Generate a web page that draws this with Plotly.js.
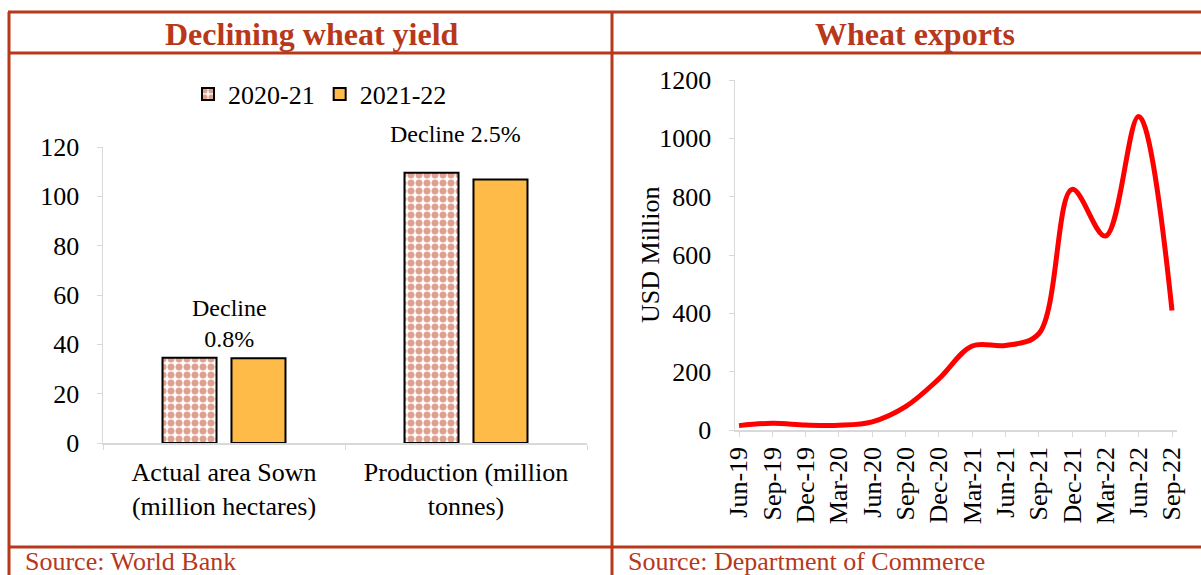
<!DOCTYPE html>
<html>
<head>
<meta charset="utf-8">
<script src="https://cdn.plot.ly/plotly-3.0.1.min.js"></script>
<style>
  html, body { margin: 0; padding: 0; background: #fff; }
  #chart { width: 1201px; height: 575px; }
</style>
</head>
<body>
<div id="chart"></div>
<script>
// left panel: area sown and production
const cropCategories = ['Actual area Sown<br>(million hectares)', 'Production (million<br>tonnes)'];
const seriesNames = ['2020-21', '2021-22'];
const values2020 = [34.6, 109.59];
const values2021 = [34.32, 106.84];

// right panel: quarterly wheat exports (USD million)
const quarters = ['Jun-19', 'Sep-19', 'Dec-19', 'Mar-20', 'Jun-20', 'Sep-20', 'Dec-20',
                  'Mar-21', 'Jun-21', 'Sep-21', 'Dec-21', 'Mar-22', 'Jun-22', 'Sep-22'];
const exportsUSD = [15, 23, 17, 16, 28, 80, 175, 288, 290, 330, 825, 665, 1075, 410];

const W = 1201, H = 575;
const BRICK = '#B7381A';
const FONT = 'Liberation Serif, Times New Roman, serif';
const AXIS_GREY = '#d9d9d9';
const TICK_SIZE = 26;

// pixel -> paper helpers
const px = (x) => x / W;
const py = (y) => 1 - y / H;

const declinePct = values2020.map((v, i) => ((v - values2021[i]) / v * 100).toFixed(1));

const traces = [
    {
        type: 'bar',
        name: seriesNames[0],
        x: cropCategories,
        y: values2020,
        xaxis: 'x', yaxis: 'y',
        marker: {
            color: '#ffffff',
            line: { color: '#000', width: 2 },
            pattern: { shape: '.', fgcolor: '#C0441F', bgcolor: '#ffffff', size: 8, solidity: 0.6, fillmode: 'overlay' }
        },
        hoverinfo: 'x+y'
    },
    {
        type: 'bar',
        name: seriesNames[1],
        x: cropCategories,
        y: values2021,
        xaxis: 'x', yaxis: 'y',
        marker: { color: '#FFBB47', line: { color: '#000', width: 2 } },
        hoverinfo: 'x+y'
    },
    {
        type: 'scatter',
        mode: 'lines',
        x: quarters,
        y: exportsUSD,
        xaxis: 'x2', yaxis: 'y2',
        line: { color: '#FF0000', width: 5, shape: 'spline', smoothing: 1 },
        showlegend: false
    }
];

// frame lines
const frame = [
    [8, 12, W, 12],
    [8, 53, W, 53],
    [8, 547, W, 547],
    [9, 12, 9, H],
    [612, 12, 612, H]
].map(([x0, y0, x1, y1]) => ({
    type: 'line', xref: 'paper', yref: 'paper',
    x0: px(x0), y0: py(y0), x1: px(x1), y1: py(y1),
    line: { color: BRICK, width: 3 }
}));

const annotations = [
    { text: '<b>Declining wheat yield</b>', x: px(312), y: py(34), font: { size: 32, color: BRICK } },
    { text: '<b>Wheat exports</b>', x: px(915), y: py(34), font: { size: 32, color: BRICK } },
    { text: 'Source: World Bank', x: px(23), y: py(561), xanchor: 'left', font: { size: 26, color: BRICK } },
    { text: 'Source: Department of Commerce', x: px(626), y: py(561), xanchor: 'left', font: { size: 26, color: BRICK } },
    { text: 'USD Million', x: px(650), y: py(255), textangle: -90, font: { size: TICK_SIZE, color: '#000' } },
    {
        text: 'Decline<br>' + declinePct[0] + '%', xref: 'x', yref: 'y',
        x: cropCategories[0], y: values2020[0], xshift: 5, yshift: 4, yanchor: 'bottom',
        font: { size: 24, color: '#000' }
    },
    {
        text: 'Decline ' + declinePct[1] + '%', xref: 'x', yref: 'y',
        x: cropCategories[1], y: values2020[1], xshift: -11, yshift: 24, yanchor: 'bottom',
        font: { size: 24, color: '#000' }
    }
].map(a => Object.assign({ xref: 'paper', yref: 'paper', showarrow: false, xanchor: 'center', yanchor: 'middle' }, a));

const layout = {
    width: W,
    height: H,
    autosize: false,
    margin: { l: 0, r: 0, t: 0, b: 0 },
    paper_bgcolor: '#fff',
    plot_bgcolor: '#fff',
    font: { family: FONT, color: '#000', size: TICK_SIZE },
    barmode: 'group',
    bargap: 0.43,
    bargroupgap: 0.217,
    showlegend: true,
    legend: {
        orientation: 'h',
        x: px(320), xanchor: 'center',
        y: py(94), yanchor: 'middle',
        font: { size: TICK_SIZE },
        itemwidth: 30,
        bgcolor: 'rgba(0,0,0,0)'
    },
    xaxis: {
        domain: [px(103), px(587)],
        range: [-0.5, 1.5],
        showline: true, linecolor: AXIS_GREY, linewidth: 1.5,
        ticks: 'outside', tickson: 'boundaries', tickcolor: AXIS_GREY, ticklen: 5,
        ticklabelstandoff: 5,
        showgrid: false, zeroline: false,
        tickfont: { size: TICK_SIZE }
    },
    yaxis: {
        domain: [py(443), py(147)],
        range: [0, 120],
        dtick: 20,
        showline: true, linecolor: AXIS_GREY, linewidth: 1.5,
        ticks: 'outside', tickcolor: AXIS_GREY, ticklen: 5,
        ticklabelstandoff: 12,
        showgrid: false, zeroline: false,
        tickfont: { size: TICK_SIZE }
    },
    xaxis2: {
        anchor: 'y2',
        domain: [px(735), px(1177)],
        range: [-0.12, 13.15],
        type: 'category',
        tickangle: -90,
        showline: true, linecolor: AXIS_GREY, linewidth: 1.5,
        ticks: 'outside', tickcolor: AXIS_GREY, ticklen: 5,
        showgrid: false, zeroline: false,
        tickfont: { size: TICK_SIZE }
    },
    yaxis2: {
        anchor: 'x2',
        domain: [py(430), py(80)],
        range: [0, 1200],
        dtick: 200,
        showline: true, linecolor: AXIS_GREY, linewidth: 1.5,
        ticks: 'outside', tickcolor: AXIS_GREY, ticklen: 5,
        ticklabelstandoff: 12,
        showgrid: false, zeroline: false,
        tickfont: { size: TICK_SIZE }
    },
    shapes: frame,
    annotations: annotations
};

Plotly.newPlot('chart', traces, layout, { displayModeBar: false, staticPlot: true });
</script>
</body>
</html>
